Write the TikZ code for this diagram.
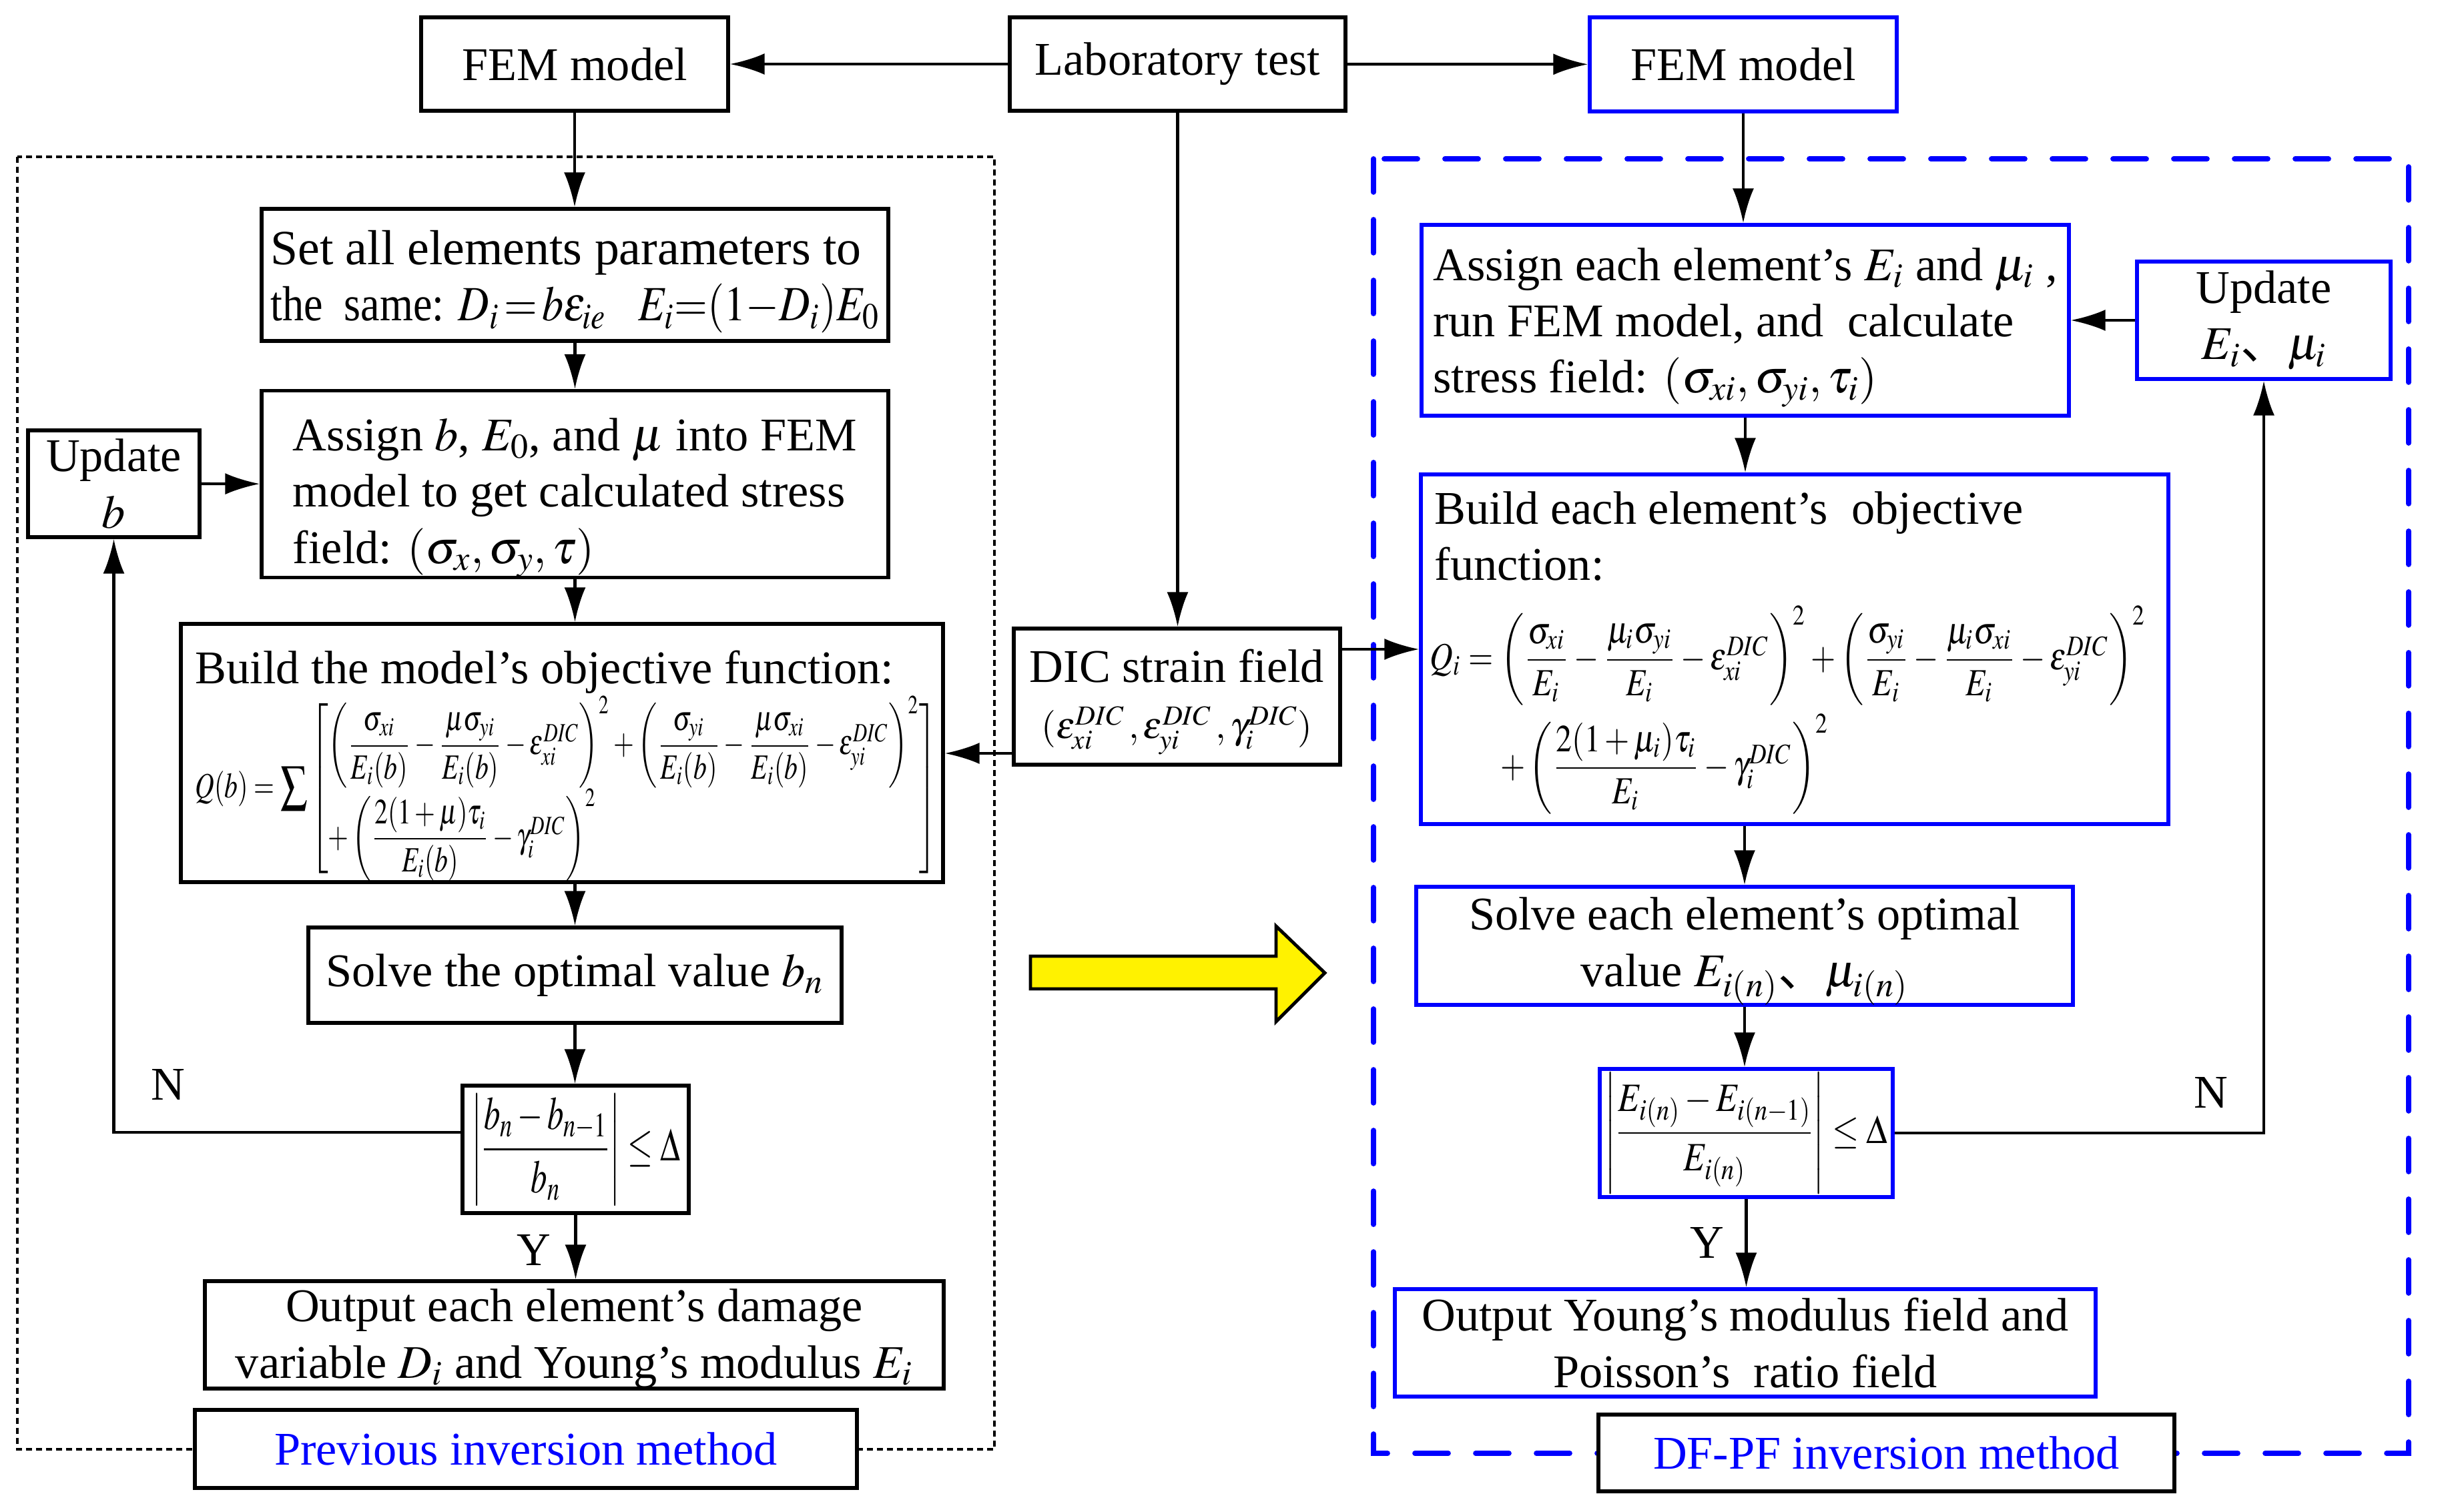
\documentclass[tikz,border=0pt]{standalone}
\usepackage{graphicx}
\usepackage{amsmath}
\usepackage{mathptmx}
\usepackage[no-math]{fontspec}
\setmainfont{Liberation Serif}
\newfontfamily\cjk{Noto Sans CJK SC}
\usetikzlibrary{arrows.meta}

\begin{document}
\begin{tikzpicture}[
		box/.style={draw, line width=1.5pt, align=center, inner sep=0pt, font=\fontsize{20}{24}\selectfont},
		bluebox/.style={box, draw=blue},
		tag/.style={box, fill=white, text=blue},
		txt/.style={inner sep=0pt, align=left, font=\fontsize{20}{24}\selectfont},
		arr/.style={-{Latex[length=0.52cm,width=0.32cm]}, line width=1.2pt}
	]
	\useasboundingbox (0,0) rectangle (36.53,-22.66);

	% frames of the two methods
	\draw[line width=1.1pt, dash pattern=on 0.09cm off 0.06cm] (0.26,-2.35) rectangle (14.90,-21.72);
	\draw[blue, line width=2.2pt, line cap=round, dash pattern=on 0.5cm off 0.41cm] (20.58,-2.38) rectangle (36.09,-21.78);

	% top row
	\node[box, minimum width=4.60cm, minimum height=1.40cm] (femL) at (8.61,-0.96) {FEM model};
	\node[box, minimum width=5.03cm, minimum height=1.40cm] (lab) at (17.645,-0.96) {Laboratory test};
	\node[bluebox, minimum width=4.60cm, minimum height=1.41cm] (femR) at (26.12,-0.965) {FEM model};

	% previous inversion method
	\node[box, align=left, font=\fontsize{21}{24}\selectfont, minimum width=9.39cm, minimum height=1.98cm] (setall) at (8.615,-4.12)
		{\rule{0pt}{0.72cm}Set all elements parameters to\\\scalebox{0.87}[1]{the\ \ same: $D_i\,{=}\,b\varepsilon_{ie}$\ \ \ $E_i{=}(1{-}D_i)E_0$}};
	\node[box, align=left, minimum width=9.39cm, minimum height=2.75cm] (assignL) at (8.615,-7.255)
		{\rule{0pt}{0.9cm}Assign $b$, $E_0$, and $\mu$ into FEM\\model to get calculated stress\\field: $(\sigma_x,\sigma_y,\tau)$};
	\node[box, minimum width=2.57cm, minimum height=1.60cm] (updb) at (1.705,-7.25) {Update\\$b$};
	\node[box, minimum width=11.42cm, minimum height=3.87cm] (buildL) at (8.42,-11.285) {};
	\node[txt, anchor=base west] (buildLtitle) at (2.92,-10.24) {Build the model’s objective function:};
	\node[inner sep=0pt, anchor=north west] (buildLeq) at (2.92,-10.42) {\resizebox*{11.11cm}{2.78cm}{$\displaystyle
		Q(b)=\sum\left[\begin{array}{@{}l@{}}
		\left(\dfrac{\sigma_{xi}}{E_i(b)}-\dfrac{\mu\sigma_{yi}}{E_i(b)}-\varepsilon_{xi}^{DIC}\right)^2
		+\left(\dfrac{\sigma_{yi}}{E_i(b)}-\dfrac{\mu\sigma_{xi}}{E_i(b)}-\varepsilon_{yi}^{DIC}\right)^2\\[6pt]
		+\left(\dfrac{2(1+\mu)\tau_i}{E_i(b)}-\gamma_i^{DIC}\right)^2
		\end{array}\right]$}};
	\node[box, minimum width=7.99cm, minimum height=1.43cm] (solveL) at (8.615,-14.615) {Solve the optimal value $b_n$};
	\node[box, minimum width=3.39cm, minimum height=1.91cm] (condL) at (8.625,-17.225)
		{\resizebox*{3.13cm}{1.67cm}{$\left|\dfrac{b_n-b_{n-1}}{b_n}\right|\le\Delta$}};
	\node[box, minimum width=11.07cm, minimum height=1.61cm] (outL) at (8.605,-20.005)
		{\rule{0pt}{0.6cm}Output each element’s damage\\variable $D_i$ and Young’s modulus $E_i$};
	\node[tag, minimum width=9.92cm, minimum height=1.17cm] (prevlab) at (7.88,-21.715) {Previous inversion method};
	\node[txt] (nL) at (2.52,-16.25) {N};
	\node[txt] (yL) at (8.00,-18.73) {Y};

	% DIC data
	\node[box, minimum width=4.89cm, minimum height=2.04cm] (dic) at (17.635,-10.44)
		{\rule{0pt}{0.65cm}DIC strain field\\\resizebox{4.06cm}{!}{$(\varepsilon_{xi}^{DIC}\,,\varepsilon_{yi}^{DIC}\,,\gamma_i^{DIC})$}};
	\coordinate (dicL) at ([yshift=-0.85cm]dic.west);

	% arrow between the methods
	\draw[line width=1.4pt, fill=yellow] (15.44,-14.33) -- (19.12,-14.33) -- (19.12,-13.88) -- (19.85,-14.58)
		-- (19.12,-15.31) -- (19.12,-14.82) -- (15.44,-14.82) -- cycle;

	% DF-PF inversion method
	\node[bluebox, align=left, minimum width=9.70cm, minimum height=2.86cm] (assignR) at (26.15,-4.80)
		{\rule{0pt}{0.7cm}Assign each element’s $E_i$ and $\mu_i$ ,\\run FEM model, and\ \ calculate\\stress field: $(\sigma_{xi},\sigma_{yi},\tau_i)$};
	\node[bluebox, minimum width=3.80cm, minimum height=1.76cm] (updR) at (33.92,-4.80) {Update\\$E_i${\cjk 、}$\mu_i$};
	\node[bluebox, minimum width=11.20cm, minimum height=5.24cm] (buildR) at (26.89,-9.73) {};
	\node[txt, anchor=north west] (buildRtitle) at (21.49,-7.36) {Build each element’s\ \ objective\\function:};
	\node[inner sep=0pt, anchor=north west] (buildReq) at (21.42,-9.07) {\resizebox*{10.73cm}{3.12cm}{$\displaystyle
		\begin{array}{@{}l@{}}
		Q_i=\left(\dfrac{\sigma_{xi}}{E_i}-\dfrac{\mu_i\sigma_{yi}}{E_i}-\varepsilon_{xi}^{DIC}\right)^2
		+\left(\dfrac{\sigma_{yi}}{E_i}-\dfrac{\mu_i\sigma_{xi}}{E_i}-\varepsilon_{yi}^{DIC}\right)^2\\[8pt]
		\hspace{2.2em}+\left(\dfrac{2(1+\mu_i)\tau_i}{E_i}-\gamma_i^{DIC}\right)^2
		\end{array}$}};
	\node[bluebox, minimum width=9.84cm, minimum height=1.77cm] (solveR) at (26.14,-14.175)
		{\rule{0pt}{0.65cm}Solve each element’s optimal\\value $E_{i(n)}${\cjk 、}$\mu_{i(n)}$};
	\node[bluebox, minimum width=4.39cm, minimum height=1.92cm] (condR) at (26.165,-16.98)
		{\resizebox*{4.24cm}{1.81cm}{$\left|\dfrac{E_{i(n)}-E_{i(n-1)}}{E_{i(n)}}\right|\le\Delta$}};
	\node[bluebox, minimum width=10.50cm, minimum height=1.61cm] (outR) at (26.15,-20.125)
		{Output Young’s modulus field and\\Poisson’s\ \ ratio field};
	\node[tag, minimum width=8.63cm, minimum height=1.15cm] (dfpflab) at (28.265,-21.775) {DF-PF inversion method};
	\node[txt] (nR) at (33.13,-16.37) {N};
	\node[txt] (yR) at (25.58,-18.62) {Y};

	% connectors
	\draw[arr] (lab) -- (femL);
	\draw[arr] (lab) -- (femR);
	\draw[arr] (lab.south) -- (lab.south |- dic.north);
	\draw[arr] (femL.south) -- (femL.south |- setall.north);
	\draw[arr] (setall.south) -- (setall.south |- assignL.north);
	\draw[arr] (assignL.south) -- (assignL.south |- buildL.north);
	\draw[arr] (solveL.north |- buildL.south) -- (solveL.north);
	\draw[arr] (solveL.south) -- (solveL.south |- condL.north);
	\draw[arr] (condL.south) -- (condL.south |- outL.north);
	\draw[arr] ([yshift=0.255cm]condL.west) -| (updb.south);
	\draw[arr] (updb) -- (assignL);
	\draw[arr] (dicL) -- (dicL -| buildL.east);
	\draw[arr] (dic.east |- buildR.west) -- (buildR.west);
	\draw[arr] (femR.south) -- (femR.south |- assignR.north);
	\draw[arr] (assignR.south) -- (assignR.south |- buildR.north);
	\draw[arr] (solveR.north |- buildR.south) -- (solveR.north);
	\draw[arr] (solveR.south) -- (solveR.south |- condR.north);
	\draw[arr] (condR.south) -- (condR.south |- outR.north);
	\draw[arr] (condR.east) -| (updR.south);
	\draw[arr] (updR) -- (assignR);
\end{tikzpicture}
\end{document}
